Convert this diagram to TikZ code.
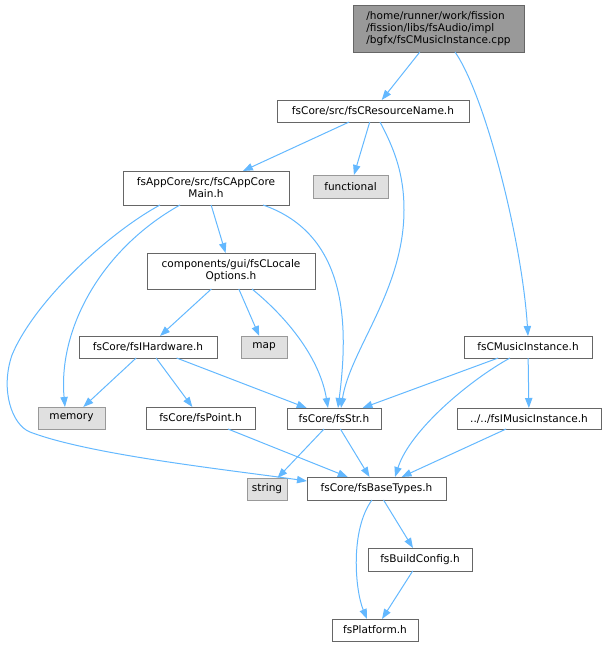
\documentclass[tikz,border=0pt]{standalone}
\usepackage{fontspec}
\setmainfont{DejaVu Sans}
\usetikzlibrary{arrows.meta,calc}

\definecolor{edgeblue}{HTML}{63B8FF}
\definecolor{boxline}{HTML}{666666}
\definecolor{sysfill}{HTML}{E0E0E0}
\definecolor{sysline}{HTML}{999999}

\begin{document}
\begin{tikzpicture}[x=0.75pt,y=-0.75pt]

\tikzstyle{file}=[draw=boxline,fill=white,line width=0.75pt,inner sep=2pt,outer sep=0pt,minimum height=16.5pt,font=\fontsize{7.9}{9}\selectfont]
\tikzstyle{sys}=[file,draw=sysline,fill=sysfill]
\tikzstyle{top}=[file,fill=sysline,align=left]
\tikzstyle{dep}=[edgeblue,line width=0.75pt,-{Triangle[length=7.5pt,width=5.5pt]}]

\useasboundingbox (0,0) rectangle (605,647);

% Quelle

\node (root) [top,minimum width=128.25pt,minimum height=35.25pt] at (438.5,28.5) {/home/runner/work/fission\\/fission/libs/fsAudio/impl\\/bgfx/fsCMusicInstance.cpp};

% Naglowki

\node (resname) [file,minimum width=144pt] at (373,111) {fsCore/src/fsCResourceName.h};
\node (appmain) [file,align=center,minimum width=124.5pt,minimum height=25.5pt] at (206,188) {fsAppCore/src/fsCAppCore\\Main.h};
\node (functional) [sys,minimum width=56.25pt,minimum height=17.25pt] at (350.5,186.5) {functional};
\node (locale) [file,align=center,minimum width=126pt,minimum height=27pt] at (231,271) {components/gui/fsCLocale\\Options.h};
\node (hardware) [file,minimum width=103.5pt] at (148,347) {fsCore/fsIHardware.h};
\node (map) [sys,minimum width=34.5pt] at (264,347) {map};
\node (musicinst) [file,minimum width=96pt] at (528,347) {fsCMusicInstance.h};
\node (memory) [sys,minimum width=50.25pt] at (71.5,418) {memory};
\node (point) [file,minimum width=81.75pt] at (200.5,418) {fsCore/fsPoint.h};
\node (str) [file,minimum width=70.5pt,minimum height=15.75pt] at (334,418.5) {fsCore/fsStr.h};
\node (imusic) [file,minimum width=108pt,minimum height=15.75pt] at (529,418.5) {../../fsIMusicInstance.h};
\node (string) [sys,minimum width=30pt] at (267,489) {string};
\node (basetypes) [file,minimum width=104.25pt,minimum height=17.25pt] at (376.5,488.5) {fsCore/fsBaseTypes.h};
\node (buildcfg) [file,minimum width=78pt,minimum height=17.25pt] at (420,559.5) {fsBuildConfig.h};
\node (platform) [file,minimum width=64.5pt] at (375,630) {fsPlatform.h};

% Kanten

\draw [dep] (root) -- (resname);
\draw [dep] ([xshift=12.4pt]root.south) .. controls (485,95) and (522,240) .. (musicinst.north);

\draw [dep] (resname) -- (appmain);
\draw [dep] (resname) -- (functional);
\draw [dep] ([xshift=5.25pt]resname.south) .. controls (395,150) and (404,175) .. (404,210) .. controls (404,290) and (350,350) .. ([xshift=5.25pt]str.north);

\draw [dep] (appmain) -- (locale);
\draw [dep] ([xshift=-19.5pt]appmain.south) .. controls (100,250) and (58,330) .. ([xshift=-4.9pt]memory.north);
\draw [dep] ([xshift=42.75pt]appmain.south) .. controls (350,235) and (348,330) .. ([xshift=3pt]str.north);
\draw [dep] ([xshift=-34.5pt]appmain.south) .. controls (110,232) and (35,300) .. (12,355) .. controls (0,390) and (12,425) .. (30,432) .. controls (90,455) and (230,470) .. ([yshift=5.6pt]basetypes.west);

\draw [dep] (locale) -- (hardware);
\draw [dep] (locale) -- (map);
\draw [dep] ([xshift=15.75pt]locale.south) .. controls (290,320) and (320,360) .. ([xshift=-4.5pt]str.north);

\draw [dep] (hardware) -- (memory);
\draw [dep] (hardware) -- (point);
\draw [dep] (hardware) -- (str);

\draw [dep] (musicinst) -- (str);
\draw [dep] (musicinst) -- (imusic);
\draw [dep] ([xshift=-13.5pt]musicinst.south) .. controls (470,380) and (410,430) .. ([xshift=13.9pt]basetypes.north);

\draw [dep] (str) -- (string);
\draw [dep] (str) -- (basetypes);
\draw [dep] (point) -- (basetypes);
\draw [dep] (imusic) -- (basetypes);

\draw [dep] (basetypes) -- (buildcfg);
\draw [dep] ([xshift=-3.4pt]basetypes.south) .. controls (350,530) and (355,590) .. ([xshift=-6pt]platform.north);
\draw [dep] (buildcfg) -- (platform);

\end{tikzpicture}
\end{document}
